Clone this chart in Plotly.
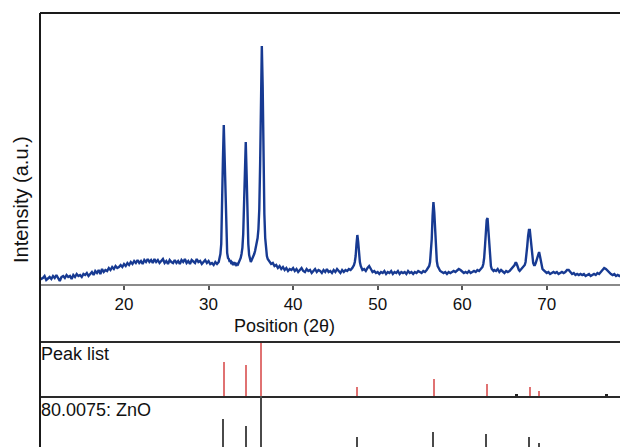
import numpy as np
import plotly.graph_objects as go


def grid(a, b, step):
    return [float(v) for v in np.round(np.arange(a, b + step / 2, step), 2)]


# ---- measured XRD pattern (2theta in degrees, intensity in arbitrary units) ----
seg_a_x = grid(10.0, 30.8, 0.2)
seg_a_y = [7, 5, 6, 8, 4, 6, 7, 5, 8, 6, 9, 6, 3, 7, 8, 6, 9, 7, 8, 5,
           9, 7, 10, 8, 9, 7, 10, 9, 11, 8, 10, 12, 9, 13, 11, 14, 10, 15, 12, 14,
           13, 16, 14, 17, 15, 18, 16, 17, 19, 17, 20, 18, 21, 19, 22, 20, 23, 21, 24, 21,
           23, 20, 24, 22, 25, 22, 24, 21, 25, 22, 24, 21, 23, 25, 21, 23, 20, 24, 22, 21,
           24, 21, 23, 20, 24, 22, 25, 21, 23, 20, 24, 22, 21, 25, 22, 23, 20, 22, 24, 21,
           23, 20, 21, 19, 22]
seg_b_x = grid(31.0, 37.0, 0.1)
seg_b_y = [20, 21, 22, 26, 30, 40, 70, 125, 159, 128,
           78, 44, 31, 26, 25, 22, 24, 20, 21, 19,
           22, 19, 20, 18, 21, 20, 22, 24, 26, 30,
           36, 50, 82, 122, 142, 110, 68, 40, 29, 24,
           22, 24, 26, 27, 30, 33, 37, 41, 46, 55,
           75, 120, 190, 238, 198, 122, 70, 46, 34, 28,
           25]
seg_c_x = grid(37.2, 47.0, 0.2)
seg_c_y = [23, 20, 21, 18, 19, 16, 18, 15, 17, 14, 16, 13, 15, 14, 16, 13, 15, 12, 14, 16,
           13, 12, 15, 13, 14, 11, 13, 15, 12, 14, 13, 11, 14, 12, 15, 12, 13, 11, 14, 12,
           15, 13, 11, 14, 12, 14, 13, 15, 14, 16]
seg_d_x = grid(47.1, 48.2, 0.1)
seg_d_y = [17, 19, 22, 28, 40, 49, 42, 30, 22, 18, 16, 14]
seg_e_x = grid(48.4, 56.0, 0.2)
seg_e_y = [15, 13, 16, 18, 15, 12, 13, 11, 12, 10, 12, 11, 13, 10, 12, 11, 13, 10, 12, 11,
           13, 10, 12, 11, 12, 10, 13, 11, 12, 10, 12, 11, 13, 12, 11, 13, 12, 14, 16]
seg_f_x = grid(56.1, 57.4, 0.1)
seg_f_y = [18, 22, 30, 45, 68, 82, 72, 50, 32, 23, 18, 16, 14, 13]
seg_g_x = grid(57.6, 62.4, 0.2)
seg_g_y = [12, 11, 12, 10, 12, 11, 12, 13, 12, 14, 15, 14, 12, 11, 12, 11, 13, 11, 12, 13,
           12, 14, 13, 15, 17]
seg_h_x = grid(62.5, 63.7, 0.1)
seg_h_y = [20, 26, 38, 55, 64, 66, 52, 35, 24, 18, 15, 14, 13]
seg_i_x = grid(63.8, 66.0, 0.2)
seg_i_y = [14, 13, 15, 12, 14, 12, 11, 13, 12, 13, 15, 16]
seg_j_x = grid(66.1, 69.8, 0.1)
seg_j_y = [17, 19, 21, 21, 19, 16, 14, 13, 14,
           14, 15, 16, 17, 19, 22, 28, 38, 48, 54,
           54, 46, 34, 25, 21, 19, 19, 21, 24, 28,
           31, 32, 28, 22, 18, 15, 14, 13, 12]
seg_k_x = grid(70.0, 79.0, 0.2)
seg_k_y = [11, 12, 10, 11, 12, 11, 12, 10, 11, 12, 11, 12, 14, 14, 12, 10, 11, 9, 10, 9,
           10, 9, 10, 8, 9, 10, 8, 9, 10, 9, 11, 10, 12, 14, 16, 15, 13, 11, 10, 9,
           10, 8, 9, 8, 9, 8]

segments = [(seg_a_x, seg_a_y), (seg_b_x, seg_b_y), (seg_c_x, seg_c_y), (seg_d_x, seg_d_y),
            (seg_e_x, seg_e_y), (seg_f_x, seg_f_y), (seg_g_x, seg_g_y), (seg_h_x, seg_h_y),
            (seg_i_x, seg_i_y), (seg_j_x, seg_j_y), (seg_k_x, seg_k_y)]
two_theta, intensity = [], []
for sx, sy in segments:
    assert len(sx) == len(sy), (sx[0], len(sx), len(sy))
    two_theta += sx
    intensity += sy

# ---- peak list (relative intensity) ----
peak_pos = [31.8, 34.45, 36.25, 47.6, 56.65, 62.95, 68.0, 69.1]
peak_rel = [64, 58, 100, 17, 32, 23, 17, 10]
minor_pos = [66.4, 77.05]
minor_rel = [4, 3]

# ---- reference pattern 80.0075: ZnO ----
ref_pos = [31.77, 34.42, 36.25, 47.54, 56.6, 62.86, 66.38, 67.96, 69.1, 72.56, 76.95]
ref_rel = [57, 44, 100, 23, 32, 29, 4, 23, 11, 2, 4]

x_ticks = [20, 30, 40, 50, 60, 70]
x_range = [10.06, 78.67]

FONT = "Liberation Sans, Arial, Helvetica, sans-serif"
H = 447.0
TOP = 13.0
PH = H - TOP


def py(pix):
    return (H - pix) / PH


fig = go.Figure()
fig.add_trace(go.Scatter(x=two_theta, y=intensity, mode="lines",
                         line=dict(color="#173a92", width=2.4), xaxis="x", yaxis="y",
                         showlegend=False))
fig.add_trace(go.Bar(x=peak_pos, y=peak_rel, width=0.18,
                     marker=dict(color="#e07272", line=dict(width=0)),
                     xaxis="x2", yaxis="y2", showlegend=False))
fig.add_trace(go.Bar(x=minor_pos, y=minor_rel, width=0.3, marker=dict(color="#222222", line=dict(width=0)),
                     xaxis="x2", yaxis="y2", showlegend=False))
fig.add_trace(go.Bar(x=ref_pos, y=ref_rel, width=0.18, marker=dict(color="#4a4a4a", line=dict(width=0)),
                     xaxis="x3", yaxis="y3", showlegend=False))

fig.update_layout(
    width=620, height=447,
    margin=dict(l=40, r=0, t=13, b=0),
    paper_bgcolor="white", plot_bgcolor="white",
    font=dict(family=FONT, color="#111111"),
    xaxis=dict(domain=[0, 1], range=x_range, anchor="y", tickvals=x_ticks,
               ticks="outside", ticklen=4, tickwidth=1.5, tickcolor="#555555",
               showline=True, linecolor="#8a8a8a", linewidth=2,
               showgrid=False, zeroline=False, tickfont=dict(size=17, color="#111111")),
    yaxis=dict(domain=[py(284), 1], range=[0, 271], anchor="x", showticklabels=False,
               ticks="", showgrid=False, zeroline=False, showline=False),
    xaxis2=dict(domain=[0, 1], range=x_range, anchor="y2", matches="x", showticklabels=False,
                ticks="", showgrid=False, zeroline=False, showline=True, mirror=True,
                linecolor="#2a2a2a", linewidth=2),
    yaxis2=dict(domain=[py(396), py(343)], range=[0, 100], anchor="x2", showticklabels=False,
                ticks="", showgrid=False, zeroline=False, showline=False),
    xaxis3=dict(domain=[0, 1], range=x_range, anchor="y3", matches="x", showticklabels=False,
                ticks="", showgrid=False, zeroline=False, showline=False),
    yaxis3=dict(domain=[0, py(396)], range=[3.8, 100], anchor="x3", showticklabels=False,
                ticks="", showgrid=False, zeroline=False, showline=False),
    bargap=0,
    shapes=[
        dict(type="line", xref="paper", yref="paper", x0=0, x1=1, y0=1, y1=1,
             line=dict(color="#1a1a1a", width=2)),
        dict(type="line", xref="paper", yref="paper", x0=0, x1=0, y0=0, y1=1,
             line=dict(color="#1a1a1a", width=2)),
    ],
    annotations=[
        dict(text="Position (2θ)", xref="paper", yref="paper", x=(284 - 40) / 580, y=py(326),
             xanchor="center", yanchor="middle", showarrow=False, font=dict(size=18)),
        dict(text="Intensity (a.u.)", xref="paper", yref="paper", x=(21 - 40) / 580, y=py(200),
             xanchor="center", yanchor="middle", textangle=-90, showarrow=False,
             font=dict(size=20)),
        dict(text="Peak list", xref="paper", yref="paper", x=0, y=py(354), xshift=-1,
             xanchor="left", yanchor="middle", showarrow=False, font=dict(size=18)),
        dict(text="80.0075: ZnO", xref="paper", yref="paper", x=0, y=py(410), xshift=-1,
             xanchor="left", yanchor="middle", showarrow=False, font=dict(size=18)),
    ],
)

fig.write_html("out.html", config=dict(displayModeBar=False))

# remove the browser's default page margin so the figure sits at the window origin
with open("out.html", "r", encoding="utf-8") as fh:
    html = fh.read()
html = html.replace("<head>", "<head><style>html,body{margin:0;padding:0;overflow:hidden;}</style>", 1)
with open("out.html", "w", encoding="utf-8") as fh:
    fh.write(html)
